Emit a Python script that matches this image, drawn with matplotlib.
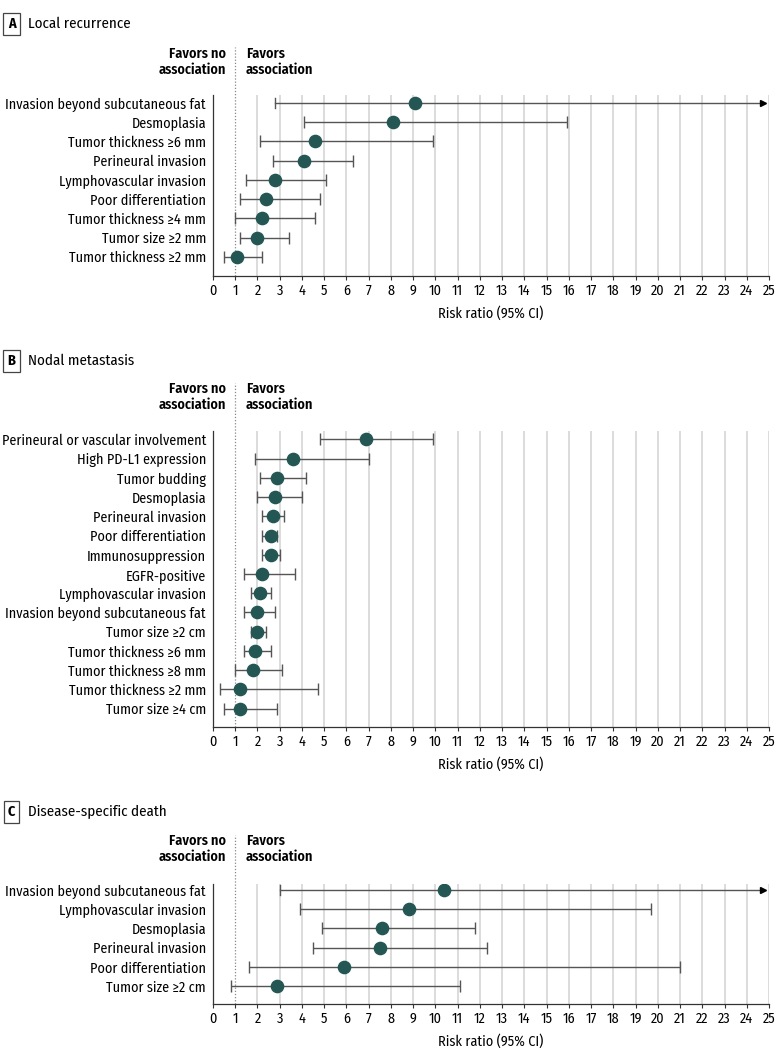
import matplotlib
matplotlib.use('Agg')
import matplotlib.pyplot as plt
from matplotlib import font_manager
import numpy as np

# condensed face if available, otherwise a plain installed sans
have = {f.name for f in font_manager.fontManager.ttflist}
fams = [f for f in ['Fira Sans Condensed', 'Roboto Condensed', 'PT Sans Narrow'] if f in have]
plt.rcParams['font.family'] = fams + ['DejaVu Sans']
FS = 10.2 if fams else 8.0
plt.rcParams['font.size'] = FS

# ---- data (risk ratio, lower CI, upper CI; nan upper = open-ended arrow) ----
a_labels = ['Invasion beyond subcutaneous fat', 'Desmoplasia', 'Tumor thickness ≥6 mm',
            'Perineural invasion', 'Lymphovascular invasion', 'Poor differentiation',
            'Tumor thickness ≥4 mm', 'Tumor size ≥2 mm', 'Tumor thickness ≥2 mm']
a_rr = [9.1, 8.1, 4.6, 4.1, 2.8, 2.4, 2.2, 2.0, 1.1]
a_lo = [2.8, 4.1, 2.1, 2.7, 1.5, 1.2, 1.0, 1.2, 0.5]
a_hi = [np.nan, 15.9, 9.9, 6.3, 5.1, 4.8, 4.6, 3.4, 2.2]

b_labels = ['Perineural or vascular involvement', 'High PD-L1 expression', 'Tumor budding',
            'Desmoplasia', 'Perineural invasion', 'Poor differentiation', 'Immunosuppression',
            'EGFR-positive', 'Lymphovascular invasion', 'Invasion beyond subcutaneous fat',
            'Tumor size ≥2 cm', 'Tumor thickness ≥6 mm', 'Tumor thickness ≥8 mm',
            'Tumor thickness ≥2 mm', 'Tumor size ≥4 cm']
b_rr = [6.9, 3.6, 2.9, 2.8, 2.7, 2.6, 2.6, 2.2, 2.1, 2.0, 2.0, 1.9, 1.8, 1.2, 1.2]
b_lo = [4.8, 1.9, 2.1, 2.0, 2.2, 2.2, 2.2, 1.4, 1.7, 1.4, 1.7, 1.4, 1.0, 0.3, 0.5]
b_hi = [9.9, 7.0, 4.2, 4.0, 3.2, 2.9, 3.0, 3.7, 2.6, 2.8, 2.4, 2.6, 3.1, 4.7, 2.9]

c_labels = ['Invasion beyond subcutaneous fat', 'Lymphovascular invasion', 'Desmoplasia',
            'Perineural invasion', 'Poor differentiation', 'Tumor size ≥2 cm']
c_rr = [10.4, 8.8, 7.6, 7.5, 5.9, 2.9]
c_lo = [3.0, 3.9, 4.9, 4.5, 1.6, 0.8]
c_hi = [np.nan, 19.7, 11.8, 12.3, 21.0, 11.1]

x_ticks = list(range(0, 26))

W, H = 780, 1061
LEFT, RIGHT = 213, 769
STEP = 19.22
DOT = '#245753'
LINE = '#555555'

fig = plt.figure(figsize=(W / 100, H / 100), dpi=100)


def panel(letter, title, labels, rr, lo, hi, title_y, favors_y, dot_top, top, row0, bottom):
    n = len(labels)
    ax = fig.add_axes([LEFT / W, 1 - bottom / H, (RIGHT - LEFT) / W, (bottom - top) / H])
    to_y = lambda p: (n - 1) - (p - row0) / STEP
    ax.set_xlim(0, 25)
    ax.set_ylim(to_y(bottom), to_y(top))
    ys = [n - 1 - i for i in range(n)]

    # grid + reference line
    for t in x_ticks[2:]:
        ax.axvline(t, color='#d6d6d6', lw=1.2, zorder=0)
    ax.plot([1, 1], [to_y(bottom), to_y(dot_top)], ls=(0, (1, 1.5)), color='#888888',
            lw=0.9, clip_on=False, zorder=1)

    for y, r, l, h in zip(ys, rr, lo, hi):
        if np.isnan(h):
            ax.plot([l, 24.75], [y, y], color=LINE, lw=1, zorder=2)
            ax.plot([l, l], [y - 0.25, y + 0.25], color=LINE, lw=1, zorder=2)
            ax.plot(24.75, y, marker='>', color='black', ms=5, zorder=3)
        else:
            ax.errorbar(r, y, xerr=[[r - l], [h - r]], fmt='none', ecolor=LINE,
                        elinewidth=1, capsize=4.5, capthick=1, zorder=2)
        ax.plot(r, y, 'o', color=DOT, ms=8.8, zorder=4)

    ax.set_yticks(ys)
    ax.set_yticklabels(labels)
    ax.tick_params(axis='y', length=0, pad=5)
    ax.set_xticks(x_ticks)
    ax.tick_params(axis='x', length=3, width=0.8, pad=2.5, color='#333333')
    ax.set_xlabel('Risk ratio (95% CI)', labelpad=6)
    for s in ['top', 'right']:
        ax.spines[s].set_visible(False)
    for s in ['left', 'bottom']:
        ax.spines[s].set_color('#333333')
        ax.spines[s].set_linewidth(0.9)

    fig.text(11.5 / W, 1 - title_y / H, letter, ha='center', va='center', fontweight='bold',
             bbox=dict(boxstyle='square,pad=0.3', fc='white', ec='#444444', lw=0.9))
    fig.text(28 / W, 1 - title_y / H, title, ha='left', va='center', fontsize=FS + 0.6)
    fig.text(226 / W, 1 - favors_y / H, 'Favors no\nassociation', ha='right', va='center',
             fontweight='semibold', linespacing=1.15)
    fig.text(246 / W, 1 - favors_y / H, 'Favors\nassociation', ha='left', va='center',
             fontweight='semibold', linespacing=1.15)


panel('A', 'Local recurrence', a_labels, a_rr, a_lo, a_hi, 24, 61.5, 47, 95, 103, 276)
panel('B', 'Nodal metastasis', b_labels, b_rr, b_lo, b_hi, 361, 397, 383, 431, 439.5, 727)
panel('C', 'Disease-specific death', c_labels, c_rr, c_lo, c_hi, 812, 849, 835, 884, 890, 1004)

fig.savefig('out.png', dpi=100)
